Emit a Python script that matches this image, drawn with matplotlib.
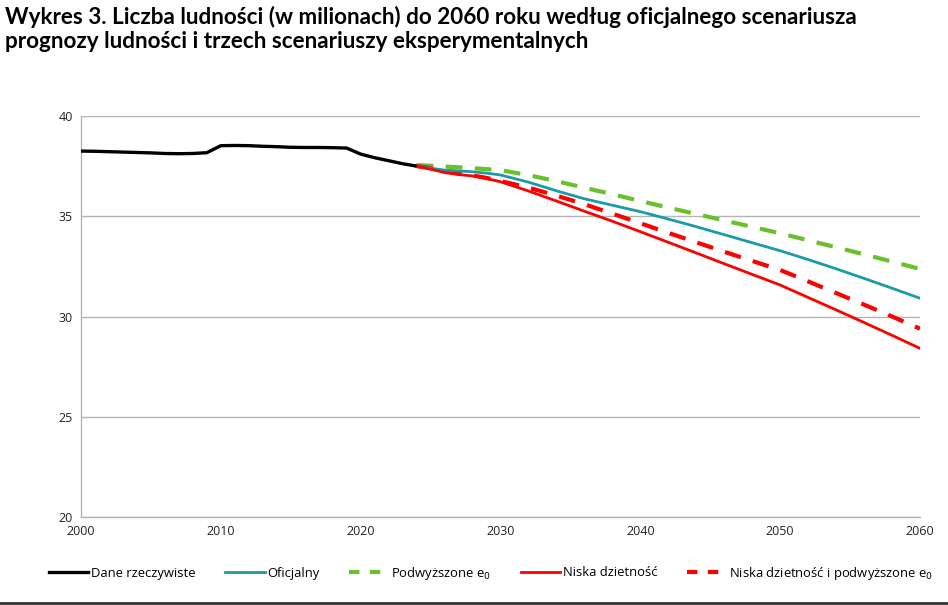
import numpy as np
import matplotlib.pyplot as plt
from matplotlib.lines import Line2D

# historical data (millions)
hist_years = [2000, 2001, 2002, 2003, 2004, 2005, 2006, 2007, 2008, 2009, 2010,
              2011, 2012, 2013, 2014, 2015, 2016, 2017, 2018, 2019, 2020, 2021,
              2022, 2023, 2024]
hist_vals = [38.25, 38.24, 38.22, 38.20, 38.18, 38.16, 38.13, 38.12, 38.13, 38.17, 38.52,
             38.53, 38.52, 38.49, 38.47, 38.44, 38.43, 38.43, 38.42, 38.40, 38.10, 37.92,
             37.77, 37.62, 37.50]

# projections
proj_years = [2024, 2025, 2026, 2027, 2028, 2029, 2030, 2032, 2034, 2036, 2038, 2040,
              2042, 2044, 2046, 2048, 2050, 2052, 2054, 2056, 2058, 2060]
official = [37.50, 37.40, 37.30, 37.26, 37.22, 37.15, 37.06, 36.70, 36.27, 35.87, 35.55, 35.23,
            34.86, 34.48, 34.08, 33.68, 33.28, 32.84, 32.38, 31.90, 31.41, 30.91]
higher_e0 = [37.55, 37.52, 37.48, 37.44, 37.40, 37.35, 37.30, 37.05, 36.75, 36.42, 36.10, 35.76,
             35.43, 35.11, 34.79, 34.47, 34.15, 33.80, 33.45, 33.10, 32.74, 32.37]
low_fert = [37.50, 37.35, 37.18, 37.08, 37.01, 36.88, 36.72, 36.26, 35.76, 35.25, 34.75, 34.23,
            33.70, 33.17, 32.63, 32.10, 31.57, 30.95, 30.33, 29.70, 29.06, 28.41]
low_fert_e0 = [37.50, 37.40, 37.26, 37.13, 37.04, 36.91, 36.76, 36.43, 36.03, 35.60, 35.13, 34.65,
               34.17, 33.70, 33.23, 32.77, 32.32, 31.75, 31.17, 30.59, 30.00, 29.39]

x_ticks = [2000, 2010, 2020, 2030, 2040, 2050, 2060]
y_ticks = [20, 25, 30, 35, 40]

c_black = '#000000'
c_teal = '#1a9ba8'
c_green = '#6abf2e'
c_red = '#ff0000'

plt.rcParams['font.family'] = ['Open Sans', 'DejaVu Sans']

fig = plt.figure(figsize=(9.48, 6.05), dpi=100)
ax = fig.add_axes([81 / 948, 1 - 517 / 605, (920 - 81) / 948, (517 - 116) / 605])

ax.plot(hist_years, hist_vals, color=c_black, lw=2.4, solid_capstyle='butt', zorder=5)
ax.plot(proj_years, official, color=c_teal, lw=2.0, zorder=4)
ax.plot(proj_years, higher_e0, color=c_green, lw=3.0, dashes=(4, 3), zorder=3)
ax.plot(proj_years, low_fert, color=c_red, lw=2.0, zorder=4)
ax.plot(proj_years, low_fert_e0, color=c_red, lw=3.0, dashes=(4, 3), zorder=3)

ax.set_xlim(2000, 2060)
ax.set_ylim(20, 40)
ax.set_xticks(x_ticks)
ax.set_yticks(y_ticks)
ax.tick_params(length=0, labelsize=9, colors='#222222', pad=6)
ax.yaxis.grid(True, color='#b5b5b5', lw=1)
ax.set_axisbelow(True)
for s in ['top', 'right']:
    ax.spines[s].set_visible(False)
for s in ['left', 'bottom']:
    ax.spines[s].set_color('#b5b5b5')
    ax.spines[s].set_linewidth(1)

fig.text(0.005, 0.99, 'Wykres 3. Liczba ludności (w milionach) do 2060 roku według oficjalnego scenariusza\n'
         'prognozy ludności i trzech scenariuszy eksperymentalnych',
         ha='left', va='top', fontsize=16.2, fontweight='bold', linespacing=1.15,
         family=['Lato', 'DejaVu Sans'])

handles = [
    Line2D([], [], color=c_black, lw=2.4),
    Line2D([], [], color=c_teal, lw=2.0),
    Line2D([], [], color=c_green, lw=3.0, dashes=(2.5, 2.5)),
    Line2D([], [], color=c_red, lw=2.0),
    Line2D([], [], color=c_red, lw=3.0, dashes=(2.5, 2.5)),
]
labels = ['Dane rzeczywiste', 'Oficjalny', 'Podwyższone e$_0$', 'Niska dzietność',
          'Niska dzietność i podwyższone e$_0$']
fig.legend(handles, labels, loc='center', bbox_to_anchor=(0.518, 1 - 573 / 605), ncol=5,
           frameon=False, fontsize=9.4, handlelength=3.0, handletextpad=0.2, columnspacing=2.3)

fig.add_artist(Line2D([0, 1], [0.004, 0.004], transform=fig.transFigure, color='#333333', lw=2))

fig.savefig('out.png', dpi=100)
